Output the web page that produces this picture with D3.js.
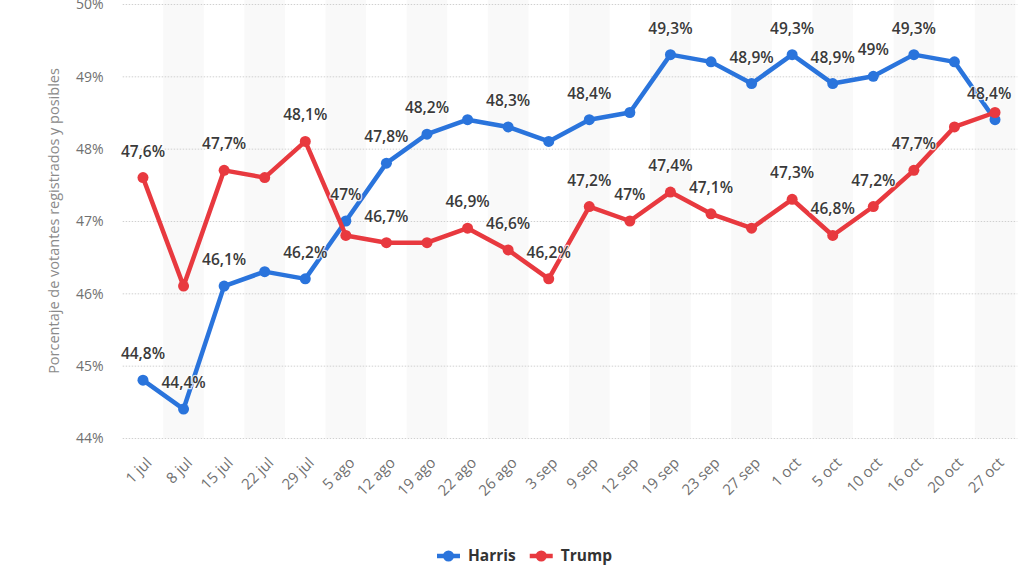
<!DOCTYPE html>
<html>
<head>
<meta charset="utf-8">
<script src="https://cdn.jsdelivr.net/npm/d3@7"></script>
<style>
  html, body { margin: 0; padding: 0; background: #fff; }
  svg { display: block; font-family: "Open Sans", "DejaVu Sans", sans-serif; }
</style>
</head>
<body>
<svg id="chart" width="1024" height="576"></svg>
<script>
const categories = ["1 jul","8 jul","15 jul","22 jul","29 jul","5 ago","12 ago","19 ago","22 ago","26 ago","3 sep","9 sep","12 sep","19 sep","23 sep","27 sep","1 oct","5 oct","10 oct","16 oct","20 oct","27 oct"];
const harris = [44.8,44.4,46.1,46.3,46.2,47.0,47.8,48.2,48.4,48.3,48.1,48.4,48.5,49.3,49.2,48.9,49.3,48.9,49.0,49.3,49.2,48.4];
const trump  = [47.6,46.1,47.7,47.6,48.1,46.8,46.7,46.7,46.9,46.6,46.2,47.2,47.0,47.4,47.1,46.9,47.3,46.8,47.2,47.7,48.3,48.5];
const harrisLabeled = [1,1,1,0,1,1,1,1,0,1,0,1,0,1,0,1,1,1,1,1,0,1];
const trumpLabeled  = [1,0,1,0,1,0,1,0,1,1,1,1,1,1,1,0,1,1,1,1,0,0];
const yTicks = [44,45,46,47,48,49,50];
const seriesNames = ["Harris","Trump"];
const seriesColors = ["#2a74dc","#e8393f"];
const yTitle = "Porcentaje de votantes registrados y posibles";

const svg = d3.select("#chart");
const plot = {left: 122.7, right: 1015.3, top: 4, bottom: 438};

const x = d3.scaleBand().domain(categories).range([plot.left, plot.right]).padding(0);
const y = d3.scaleLinear().domain([44, 50]).range([plot.bottom, plot.top]);
const cx = c => x(c) + x.bandwidth() / 2;

// alternating bands
svg.append("g").selectAll("rect")
  .data(categories.filter((c, i) => i % 2 === 1))
  .join("rect")
  .attr("x", c => x(c)).attr("y", 0)
  .attr("width", x.bandwidth()).attr("height", plot.bottom)
  .attr("fill", "#f9f9f9");

// gridlines + y tick labels
const yAxis = d3.axisLeft(y).tickValues(yTicks).tickFormat(d => d + "%").tickSize(0).tickPadding(0);
const gy = svg.append("g").attr("transform", `translate(${plot.left},0)`).call(yAxis);
gy.select(".domain").remove();
gy.selectAll(".tick line").remove();
gy.selectAll(".tick").append("line")
  .attr("x1", 0).attr("x2", plot.right - plot.left + 2)
  .attr("stroke", "#d0d0d0").attr("stroke-width", 1).attr("stroke-dasharray", "1.5,1.5");
gy.selectAll(".tick text")
  .attr("x", -19).attr("dy", "0.35em")
  .attr("fill", "#707070").attr("font-size", 14).attr("font-family", "Open Sans");

// y title
svg.append("text")
  .attr("transform", `translate(59,${(plot.top + plot.bottom) / 2}) rotate(-90)`)
  .attr("text-anchor", "middle")
  .attr("fill", "#8a8a8a").attr("font-size", 14.5)
  .text(yTitle);

// x axis labels
const xAxis = d3.axisBottom(x).tickSize(0).tickPadding(0);
const gx = svg.append("g").attr("transform", `translate(0,${plot.bottom})`).call(xAxis);
gx.select(".domain").remove();
gx.selectAll(".tick text")
  .attr("text-anchor", "end")
  .attr("transform", "translate(6,22) rotate(-45)")
  .attr("y", 0).attr("dy", "0.35em")
  .attr("fill", "#707070").attr("font-size", 15).attr("font-family", "Open Sans");

// series
const seriesData = [harris, trump];
const line = d3.line().x((d, i) => cx(categories[i])).y(d => y(d));
seriesData.forEach((vals, si) => {
  const g = svg.append("g");
  g.append("path").datum(vals)
    .attr("d", line).attr("fill", "none")
    .attr("stroke", seriesColors[si]).attr("stroke-width", 4.5)
    .attr("stroke-linejoin", "round").attr("stroke-linecap", "round");
  g.selectAll("circle").data(vals).join("circle")
    .attr("cx", (d, i) => cx(categories[i])).attr("cy", d => y(d))
    .attr("r", 5.5).attr("fill", seriesColors[si]);
});

// data labels
const fmt = v => String(+v.toFixed(1)).replace(".", ",") + "%";
const labelSets = [[harris, harrisLabeled], [trump, trumpLabeled]];
const lg = svg.append("g");
labelSets.forEach(([vals, flags]) => {
  vals.forEach((v, i) => {
    if (!flags[i]) return;
    let px = cx(categories[i]);
    const t = lg.append("text")
      .attr("x", px).attr("y", y(v) - 21)
      .attr("text-anchor", "middle")
      .attr("font-size", 15.5).attr("font-weight", 600)
      .attr("fill", "#3a3a3a")
      .attr("stroke", "#ffffff").attr("stroke-width", 2.5).attr("stroke-opacity", 0.8)
      .attr("paint-order", "stroke").attr("stroke-linejoin", "round")
      .text(fmt(v));
    const w = t.node().getComputedTextLength();
    if (px + w / 2 > plot.right - 4) t.attr("x", plot.right - 4 - w / 2);
  });
});

// legend
const legend = svg.append("g");
let lx = 437;
seriesNames.forEach((name, i) => {
  const g = legend.append("g").attr("transform", `translate(${lx},556)`);
  g.append("line").attr("x1", 0).attr("x2", 23).attr("y1", 0).attr("y2", 0)
    .attr("stroke", seriesColors[i]).attr("stroke-width", 4.5);
  g.append("circle").attr("cx", 11.5).attr("cy", 0).attr("r", 5.5).attr("fill", seriesColors[i]);
  const t = g.append("text").attr("x", 31).attr("y", 0).attr("dy", "0.35em")
    .attr("font-size", 15.5).attr("font-weight", 700).attr("fill", "#333")
    .text(name);
  lx += 31 + t.node().getComputedTextLength() + 14;
});
</script>
</body>
</html>
